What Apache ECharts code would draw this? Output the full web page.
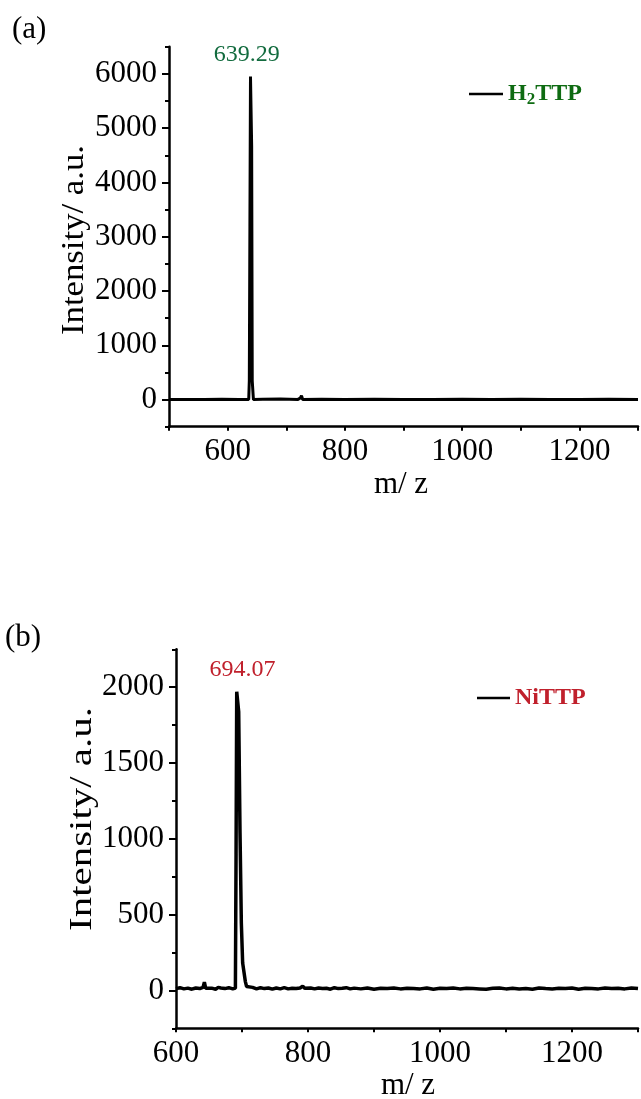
<!DOCTYPE html>
<html>
<head>
<meta charset="utf-8">
<script src="https://cdn.jsdelivr.net/npm/echarts@6/dist/echarts.min.js"></script>
<style>
  html, body { margin: 0; padding: 0; background: #fff; }
  #chart { width: 641px; height: 1099px; }
</style>
</head>
<body>
<div id="chart"></div>
<script>
// (a) H2TTP spectrum
const mzA = [500, 530, 560, 590, 620, 636, 637, 638, 639, 640,
             641, 642, 643, 644, 660, 690, 720, 724, 726, 728,
             760, 800, 850, 900, 950, 1000, 1050, 1100, 1150, 1200,
             1250, 1300];
const intA = [0, 3, 0, 4, 2, 0, 350, 3200, 5950, 5940,
              4660, 340, 330, 0, 5, 8, 3, 30, 70, 0,
              4, 2, 5, 3, 0, 4, 2, 6, 3, 0,
              4, 2];

// (b) NiTTP spectrum
const mzB = [600, 606, 612, 618, 624, 630, 636, 641, 643, 645,
             648, 654, 660, 664, 666, 668, 674, 680, 686, 690,
             691, 692, 693, 694, 695, 696, 697, 698, 699, 700,
             701, 703, 705, 707, 710, 716, 722, 728, 734, 740,
             746, 752, 758, 764, 770, 776, 782, 788, 792, 795,
             798, 804, 810, 816, 822, 828, 834, 840, 846, 852,
             858, 864, 870, 880, 890, 900, 910, 920, 930, 940,
             950, 960, 970, 980, 990, 1000, 1010, 1020, 1030, 1040,
             1050, 1060, 1070, 1080, 1090, 1100, 1110, 1120, 1130, 1140,
             1150, 1160, 1170, 1180, 1190, 1200, 1210, 1220, 1230, 1240,
             1250, 1260, 1270, 1280, 1290, 1300];
const intB = [12, 18, 10, 15, 8, 16, 12, 20, 55, 14,
              10, 15, 8, 20, 10, 16, 12, 18, 10, 15,
              900, 1970, 1965, 1960, 1838, 1835, 1040, 1035, 445, 440,
              180, 170, 60, 25, 14, 20, 10, 18, 12, 16,
              8, 16, 10, 18, 10, 14, 12, 16, 28, 14,
              12, 16, 10, 16, 12, 14, 8, 18, 12, 14,
              18, 10, 15, 10, 16, 8, 14, 12, 16, 10,
              14, 12, 10, 16, 8, 14, 12, 16, 10, 14,
              12, 10, 8, 14, 16, 10, 14, 10, 12, 8,
              16, 12, 10, 14, 12, 16, 8, 14, 12, 10,
              16, 12, 14, 10, 16, 12];

const peakA = [639.29, 5950];
const peakB = [693, 1970];

const ticksA = [0, 1000, 2000, 3000, 4000, 5000, 6000];
const ticksB = [0, 500, 1000, 1500, 2000];

const FONT = 'Liberation Serif';
const GREEN = '#126b3e';
const LEG_GREEN = '#0e6b12';
const RED = '#c0202c';

const chart = echarts.init(document.getElementById('chart'));

const axisLine = { lineStyle: { color: '#000', width: 2.5 } };
const labelStyle = { color: '#000', fontSize: 31, fontFamily: FONT };

function yMain(grid, min, max, step, majors) {
    return {
        gridIndex: grid, type: 'value', min: min, max: max, interval: step,
        position: 'left',
        axisLine: Object.assign({ show: true, onZero: false }, axisLine),
        axisTick: { show: true, customValues: majors, length: 7, lineStyle: { width: 2, color: '#000' } },
        axisLabel: Object.assign({ customValues: majors, margin: 12, formatter: v => String(v) }, labelStyle),
        splitLine: { show: false }
    };
}

function yMinor(grid, min, max, step) {
    return {
        gridIndex: grid, type: 'value', min: min, max: max, interval: step,
        position: 'left', offset: 0,
        axisLine: { show: false },
        axisTick: { show: true, length: 4, lineStyle: { width: 2, color: '#000' } },
        axisLabel: { show: false },
        splitLine: { show: false }
    };
}

function xAxis(grid, min) {
    return {
        gridIndex: grid, type: 'value', min: min, max: 1300, interval: 100,
        position: 'bottom',
        axisLine: Object.assign({ show: true, onZero: false }, axisLine),
        axisTick: { show: true, length: 4, lineStyle: { width: 2, color: '#000' } },
        axisLabel: Object.assign({
            margin: 10,
            formatter: v => (v % 200 === 0 && v < 1300) ? String(v) : ''
        }, labelStyle),
        splitLine: { show: false }
    };
}

function legendRich(color) {
    return {
        b: { fontFamily: FONT, fontSize: 24, fontWeight: 'bold', color: color },
        s: { fontFamily: FONT, fontSize: 17, fontWeight: 'bold', color: color, padding: [12, 0, 0, 0] }
    };
}

function axisTitle(text, x, y, rotated, stretch) {
    return {
        type: 'text', x: x, y: y,
        rotation: rotated ? Math.PI / 2 : 0,
        scaleX: stretch || 1,
        style: { text: text, font: '31px "Liberation Serif"', fill: '#000', align: 'center', verticalAlign: 'middle' }
    };
}

const option = {
    animation: false,
    backgroundColor: '#fff',
    grid: [
        { left: 169, top: 46.7, width: 473, height: 380 },
        { left: 176, top: 649.3, width: 472.5, height: 379 }
    ],
    xAxis: [xAxis(0, 500), xAxis(1, 600)],
    yAxis: [
        yMain(0, -500, 6500, 500, ticksA),
        yMinor(0, -500, 6500, 500),
        yMain(1, -250, 2250, 250, ticksB),
        yMinor(1, -250, 2250, 250)
    ],
    legend: [
        {
            data: ['H2TTP'], left: 469, top: 82, padding: 0,
            icon: 'rect', itemWidth: 34, itemHeight: 2.5,
            formatter: () => '{b|H}{s|2}{b|TTP}',
            textStyle: { rich: legendRich(LEG_GREEN) }
        },
        {
            data: ['NiTTP'], left: 477, top: 686, padding: 0,
            icon: 'rect', itemWidth: 33, itemHeight: 2.5,
            formatter: () => '{b|NiTTP}',
            textStyle: { rich: legendRich(RED) }
        }
    ],
    series: [
        {
            name: 'H2TTP', type: 'line', xAxisIndex: 0, yAxisIndex: 0,
            data: mzA.map((m, i) => [m, intA[i]]),
            symbol: 'none', color: '#000',
            lineStyle: { color: '#000', width: 3 },
            markPoint: {
                symbol: 'circle', symbolSize: 0,
                label: {
                    show: true, position: 'top', distance: 10, offset: [-4, 0],
                    formatter: '639.29', color: GREEN, fontSize: 24, fontFamily: FONT
                },
                data: [{ coord: peakA }]
            }
        },
        {
            name: 'NiTTP', type: 'line', xAxisIndex: 1, yAxisIndex: 2,
            data: mzB.map((m, i) => [m, intB[i]]),
            symbol: 'none', color: '#000',
            lineStyle: { color: '#000', width: 3.5 },
            markPoint: {
                symbol: 'circle', symbolSize: 0,
                label: {
                    show: true, position: 'top', distance: 10, offset: [5, 0],
                    formatter: '694.07', color: RED, fontSize: 24, fontFamily: FONT
                },
                data: [{ coord: peakB }]
            }
        }
    ],
    graphic: [
        { type: 'text', left: 12, top: 14, style: { text: '(a)', font: '31px "Liberation Serif"', fill: '#000' } },
        { type: 'text', left: 5, top: 622, style: { text: '(b)', font: '31px "Liberation Serif"', fill: '#000' } },
        axisTitle('Intensity/ a.u.', 75, 240, true, 1.12),
        axisTitle('Intensity/ a.u.', 83, 819, true, 1.32),
        axisTitle('m/ z', 401, 485, false),
        axisTitle('m/ z', 408, 1086, false)
    ]
};

chart.setOption(option);
</script>
</body>
</html>
